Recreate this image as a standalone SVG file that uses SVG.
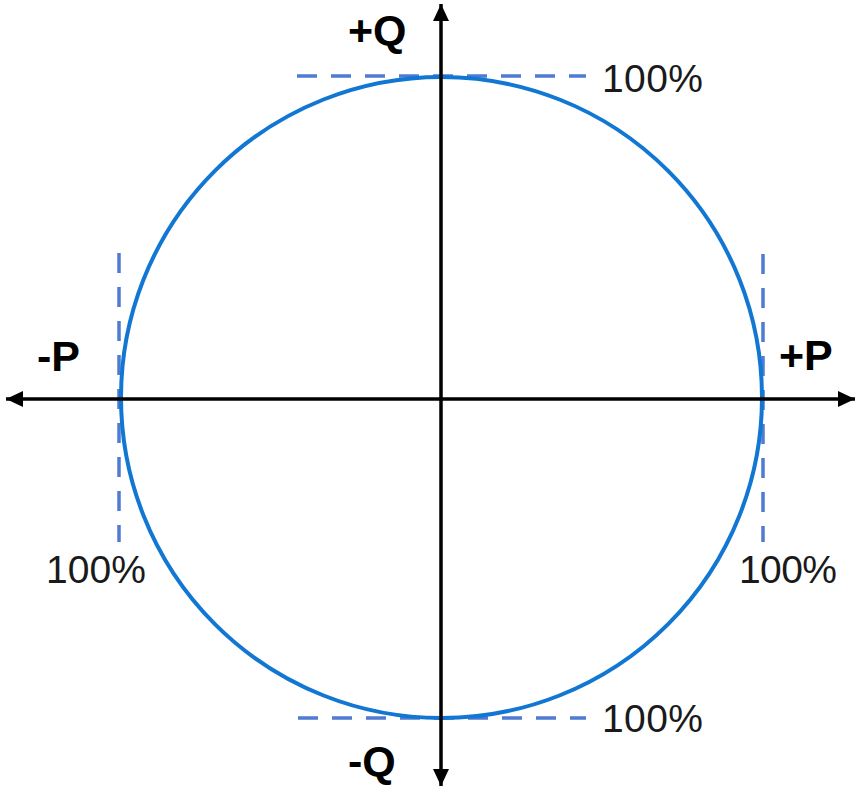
<svg xmlns="http://www.w3.org/2000/svg" width="856" height="789" viewBox="0 0 856 789">
  <style>
    .axis { stroke: #000; stroke-width: 3.5; fill: none; }
    .circ { stroke: #1277d3; stroke-width: 4; fill: none; }
    .dash { stroke: #4f7bd2; stroke-width: 3.5; stroke-dasharray: 20 14; fill: none; }
    .lbl { font-family: "Liberation Sans", Arial, sans-serif; font-weight: bold; font-size: 43px; fill: #000; }
    .pct { font-family: "Liberation Sans", Arial, sans-serif; font-size: 39px; fill: #1a1a1a; }
  </style>
  <defs>
    <marker id="arr" markerUnits="userSpaceOnUse" markerWidth="18" markerHeight="18" refX="17" refY="8" orient="auto">
      <path d="M0,0 L17,8 L0,16 Z" fill="#000"/>
    </marker>
  </defs>
  <rect width="856" height="789" fill="#fff"/>
  <g id="guides">
    <line class="dash" x1="297" y1="76" x2="586" y2="76"/>
    <line class="dash" x1="298" y1="718" x2="586" y2="718"/>
    <line class="dash" x1="119" y1="253" x2="119" y2="542"/>
    <line class="dash" x1="763" y1="254" x2="763" y2="542"/>
  </g>
  <g id="circle">
    <circle class="circ" cx="441.5" cy="397.5" r="320.5"/>
  </g>
  <g id="connectors">
    <line class="axis" x1="441" y1="397" x2="441" y2="4" marker-end="url(#arr)"/>
    <line class="axis" x1="441" y1="397" x2="441" y2="786" marker-end="url(#arr)"/>
    <line class="axis" x1="441" y1="399" x2="6" y2="399" marker-end="url(#arr)"/>
    <line class="axis" x1="441" y1="399" x2="855" y2="399" marker-end="url(#arr)"/>
  </g>
  <g id="labels">
    <text class="lbl" x="348" y="45">+Q</text>
    <text class="lbl" x="348" y="776">-Q</text>
    <text class="lbl" x="37" y="371">-P</text>
    <text class="lbl" x="779" y="370">+P</text>
  </g>
  <g id="percentages">
    <text class="pct" x="602" y="92" textLength="101">100%</text>
    <text class="pct" x="46" y="583" textLength="100">100%</text>
    <text class="pct" x="739" y="583" textLength="98">100%</text>
    <text class="pct" x="602" y="732" textLength="101">100%</text>
  </g>
</svg>
